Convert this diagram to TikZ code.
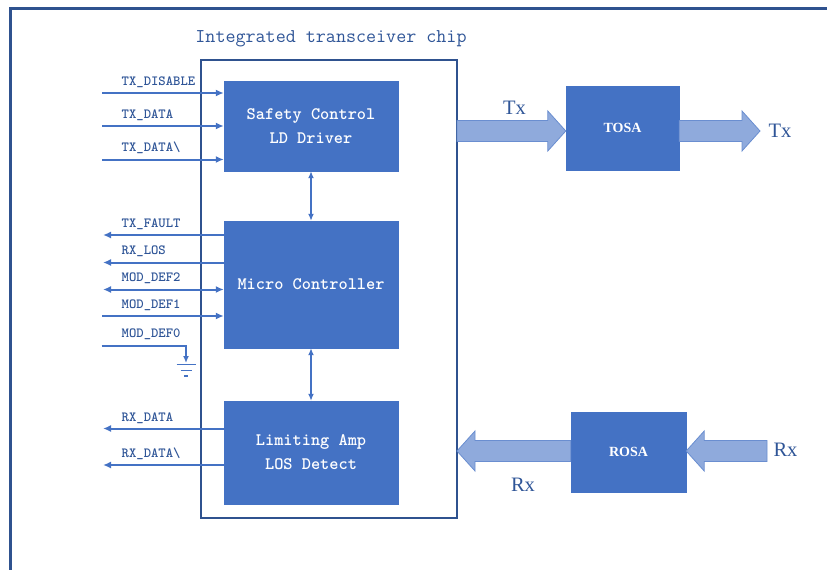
\documentclass[tikz,border=0pt]{standalone}
\usepackage{fontspec}
\usepackage{tikz}
\usetikzlibrary{arrows.meta}
\usetikzlibrary{calc}

\newfontfamily\serifa{Liberation Serif}

\definecolor{blockblue}{HTML}{4472C4}
\definecolor{darkblue}{HTML}{2F528F}
\definecolor{textblue}{HTML}{2F5597}
\definecolor{lightblue}{HTML}{8FAADC}
\definecolor{arrowedge}{HTML}{6A8ED0}

% wide arrow between two points, tip at the second one
\newcommand{\fatarrow}[2]{%
  \draw[bigarrow] let \p1=(#1), \p2=(#2), \n1={ifthenelse(\x2>\x1,1,-1)} in
    (\x1,\y1+10.5pt) -- ({\x2-\n1*18pt},\y1+10.5pt) -- ({\x2-\n1*18pt},\y1+20pt)
    -- (\x2,\y1) -- ({\x2-\n1*18pt},\y1-20pt) -- ({\x2-\n1*18pt},\y1-10.5pt)
    -- (\x1,\y1-10.5pt) -- cycle;}

\begin{document}
\begin{tikzpicture}[x=1pt,y=-1pt,
    >={Latex[length=8pt,width=7pt]},
    block/.style={draw=blockblue,fill=blockblue,text=white,align=center,inner sep=0pt,
      font=\fontsize{17.5}{24}\selectfont\ttfamily\bfseries},
    osa/.style={draw=blockblue,fill=blockblue,text=white,inner sep=0pt,
      font=\fontsize{14}{16}\selectfont\serifa\bfseries},
    bigarrow/.style={draw=arrowedge,fill=lightblue,line width=0.8pt},
    sig/.style={draw=blockblue,line width=2pt},
    bus/.style={draw=blockblue,line width=1.6pt,{Latex[length=7pt,width=6pt]}-{Latex[length=7pt,width=6pt]}},
    siglabel/.style={anchor=base west,text=textblue,inner sep=0pt,
      font=\fontsize{14}{14}\selectfont\ttfamily\bfseries},
    txrx/.style={text=textblue,inner sep=0pt,font=\fontsize{20.5}{20}\selectfont\serifa}]
  \useasboundingbox (0,0) rectangle (827,570);
  % outer frame
  \draw[darkblue,line width=2.5pt] (10.5,570) -- (10.5,8.5) -- (827,8.5);
  % chip
  \node[draw=darkblue,line width=1.8pt,minimum width=256pt,minimum height=458pt,inner sep=0pt] (chip) at (329,289) {};
  \node[text=textblue,inner sep=0pt,font=\fontsize{19.5}{20}\selectfont\ttfamily] (chiptitle) at (331,39) {Integrated transceiver chip};
  % optical path
  \coordinate (txout) at (457,131);
  \coordinate (txend) at (760,131);
  \coordinate (rxin) at (457,451);
  \coordinate (rxstart) at (767,451);
  \node[osa,minimum width=113pt,minimum height=84pt] (tosa) at (622.5,128) {TOSA};
  \node[osa,minimum width=115pt,minimum height=80pt] (rosa) at (628.5,452) {ROSA};
  \fatarrow{txout}{txout -| tosa.west}
  \fatarrow{txout -| tosa.east}{txend}
  \fatarrow{rxin -| rosa.west}{rxin}
  \fatarrow{rxstart}{rxstart -| rosa.east}
  \node[txrx] (txa) at (514.5,108) {Tx};
  \node[txrx] (txb) at (780,131) {Tx};
  \node[txrx] (rxa) at (785.5,450) {Rx};
  \node[txrx] (rxb) at (523,485) {Rx};
  % blocks
  \node[block,minimum width=174pt,minimum height=90pt] (safety) at (311,126) {Safety Control\\LD Driver};
  \node[block,minimum width=174pt,minimum height=127pt] (micro) at (311,284.5) {Micro Controller};
  \node[block,minimum width=174pt,minimum height=103pt] (limamp) at (311,452.5) {Limiting Amp\\LOS Detect};
  \draw[bus] (safety) -- (micro);
  \draw[bus] (micro) -- (limamp);
  % inputs
  \coordinate (txdis) at (102,93);
  \coordinate (txdata) at (102,126);
  \coordinate (txdatan) at (102,159.5);
  \draw[sig,->] (txdis) -- (txdis -| safety.west);
  \draw[sig,->] (txdata) -- (txdata -| safety.west);
  \draw[sig,->] (txdatan) -- (txdatan -| safety.west);
  \node[siglabel] (ltxdis) at (121.5,85) {TX\_DISABLE};
  \node[siglabel] (ltxdata) at (121.5,118.8) {TX\_DATA};
  \node[siglabel] (ltxdatan) at (121.5,151.5) {TX\_DATA\textbackslash};
  % micro controller lines
  \coordinate (txfault) at (103,235);
  \coordinate (rxlos) at (103,262.5);
  \coordinate (mdtwo) at (103,289.5);
  \coordinate (mdone) at (102,316);
  \coordinate (mdzero) at (101.5,345.5);
  \coordinate (gnd) at (186,363);
  \draw[sig,<-] (txfault) -- (txfault -| micro.west);
  \draw[sig,<-] (rxlos) -- (rxlos -| micro.west);
  \draw[sig,<->] (mdtwo) -- (mdtwo -| micro.west);
  \draw[sig,->] (mdone) -- (mdone -| micro.west);
  \draw[sig,-{Latex[length=7pt,width=6pt]}] (mdzero) -| (gnd);
  % ground
  \draw[sig,line width=1.8pt] ([shift={(-9.5,1.5)}]gnd) -- ([shift={(9.5,1.5)}]gnd);
  \draw[sig,line width=1.8pt] ([shift={(-5.5,7.5)}]gnd) -- ([shift={(5.5,7.5)}]gnd);
  \draw[sig,line width=1.8pt] ([shift={(-2.2,13)}]gnd) -- ([shift={(2.2,13)}]gnd);
  \node[siglabel] (ltxfault) at (121.5,227.8) {TX\_FAULT};
  \node[siglabel] (lrxlos) at (121.5,254.5) {RX\_LOS};
  \node[siglabel] (lmdtwo) at (121.5,281.5) {MOD\_DEF2};
  \node[siglabel] (lmdone) at (121.5,308.8) {MOD\_DEF1};
  \node[siglabel] (lmdzero) at (121.5,337.8) {MOD\_DEF0};
  % outputs
  \coordinate (rxdata) at (103,428.5);
  \coordinate (rxdatan) at (103,465);
  \draw[sig,<-] (rxdata) -- (rxdata -| limamp.west);
  \draw[sig,<-] (rxdatan) -- (rxdatan -| limamp.west);
  \node[siglabel] (lrxdata) at (121.5,421.2) {RX\_DATA};
  \node[siglabel] (lrxdatan) at (121.5,457.2) {RX\_DATA\textbackslash};
\end{tikzpicture}
\end{document}
